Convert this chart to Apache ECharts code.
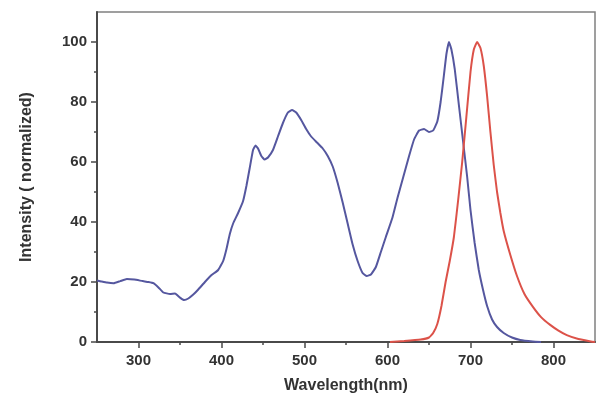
<!DOCTYPE html>
<html>
<head>
<meta charset="utf-8">
<script src="https://cdn.jsdelivr.net/npm/echarts@6/dist/echarts.min.js"></script>
<style>
  html, body { margin: 0; padding: 0; background: #fff; }
  #chart { width: 603px; height: 399px; }
</style>
</head>
<body>
<div id="chart"></div>
<script>
// absorption (blue)
const absNm = [250, 255, 262, 270, 278, 286, 295, 305, 312, 318, 324, 330, 338, 344, 350, 355, 360, 366, 372, 380,
  388, 396, 402, 406, 410, 414, 420, 426, 430, 434, 438, 441, 444, 448, 452, 456, 462, 468, 474, 480,
  485, 490, 496, 502, 508, 515, 522, 528, 534, 540, 546, 552, 558, 564, 570, 575, 580, 586, 592, 598,
  606, 612, 619, 626, 632, 638, 644, 650, 655, 660, 664, 668, 671, 674, 677, 681, 686, 691, 696, 700,
  705, 710, 715, 720, 726, 732, 740, 750, 760, 775, 785]
const absVal = [20.5, 20.2, 19.8, 19.6, 20.3, 21, 20.8, 20.3, 20, 19.6, 18.2, 16.5, 16, 16.2, 14.8, 14, 14.5, 15.8, 17.5, 20,
  22.3, 24, 27, 31, 36, 39.5, 43, 47, 52, 58, 64, 65.5, 64.5, 62, 60.8, 61.5, 64, 68.5, 73, 76.5,
  77.3, 76.5, 74, 71, 68.5, 66.5, 64.5, 62, 58.5, 53, 46.5, 39.5, 32.5, 27, 23, 22, 22.5, 25, 30, 35,
  41.5, 48, 55, 62, 67.5, 70.5, 71, 70, 70.5, 73.5, 80, 89, 96, 100, 97.5, 91, 79, 67, 55, 44,
  33, 24, 17.5, 12, 7.5, 5, 3, 1.5, 0.7, 0.2, 0]

// emission (red)
const emNm = [603, 620, 640, 650, 655, 660, 665, 670, 675, 680, 685, 690, 695, 700, 704, 708, 712, 716, 720, 724,
  728, 732, 736, 740, 748, 756, 765, 775, 785, 796, 806, 816, 830, 845, 850]
const emVal = [0, 0.3, 0.8, 1.5, 3, 6, 12, 20, 27, 35, 47, 60, 75, 90, 97.5, 100, 98, 92, 82, 70,
  59, 50, 43, 37, 29, 22, 16, 11.8, 8.3, 5.7, 3.8, 2.3, 1, 0.2, 0]

const xMajor = [300, 400, 500, 600, 700, 800]
const xMinor = [350, 450, 550, 650, 750]
const yMajor = [0, 20, 40, 60, 80, 100]
const yMinor = [10, 30, 50, 70, 90]

const pairs = (xs, ys) => xs.map((x, i) => [x, ys[i]])

const chart = echarts.init(document.getElementById('chart'), null, { renderer: 'canvas' })

const labelFont = { fontFamily: 'Liberation Sans, Arial, sans-serif', fontWeight: 'bold', fontSize: 15, color: '#333' }
const axisLine = { show: true, lineStyle: { color: '#4a4a4a', width: 2 } }

const option = {
  animation: false,
  backgroundColor: '#fff',
  grid: {
    left: 97, right: 8, top: 12, bottom: 57,
    show: true, borderColor: '#808080', borderWidth: 1.5
  },
  xAxis: [
    {
      type: 'value', min: 250, max: 850,
      name: 'Wavelength(nm)', nameLocation: 'middle', nameGap: 36,
      nameTextStyle: { ...labelFont, fontSize: 16 },
      axisLine: axisLine,
      axisTick: { show: true, length: 6, customValues: xMajor, lineStyle: { color: '#4a4a4a', width: 1.5 } },
      axisLabel: { ...labelFont, margin: 11, customValues: xMajor },
      splitLine: { show: false }
    },
    {
      type: 'value', min: 250, max: 850, position: 'bottom',
      axisLine: { show: false },
      axisTick: { show: true, length: 3, customValues: xMinor, lineStyle: { color: '#4a4a4a', width: 1.5 } },
      axisLabel: { show: false },
      splitLine: { show: false }
    }
  ],
  yAxis: [
    {
      type: 'value', min: 0, max: 110,
      name: 'Intensity ( normalized)', nameLocation: 'middle', nameGap: 62,
      nameTextStyle: { ...labelFont, fontSize: 16 },
      axisLine: axisLine,
      axisTick: { show: true, length: 6, customValues: yMajor, lineStyle: { color: '#4a4a4a', width: 1.5 } },
      axisLabel: { ...labelFont, margin: 10, customValues: yMajor },
      splitLine: { show: false }
    },
    {
      type: 'value', min: 0, max: 110, position: 'left',
      axisLine: { show: false },
      axisTick: { show: true, length: 3, customValues: yMinor, lineStyle: { color: '#4a4a4a', width: 1.5 } },
      axisLabel: { show: false },
      splitLine: { show: false }
    }
  ],
  series: [
    {
      name: 'Absorption', type: 'line', showSymbol: false,
      smooth: 0.12,
      data: pairs(absNm, absVal),
      lineStyle: { color: '#55579f', width: 2 }
    },
    {
      name: 'Emission', type: 'line', showSymbol: false,
      smooth: 0.12,
      data: pairs(emNm, emVal),
      lineStyle: { color: '#dc5249', width: 2 }
    }
  ]
}

chart.setOption(option)
</script>
</body>
</html>
